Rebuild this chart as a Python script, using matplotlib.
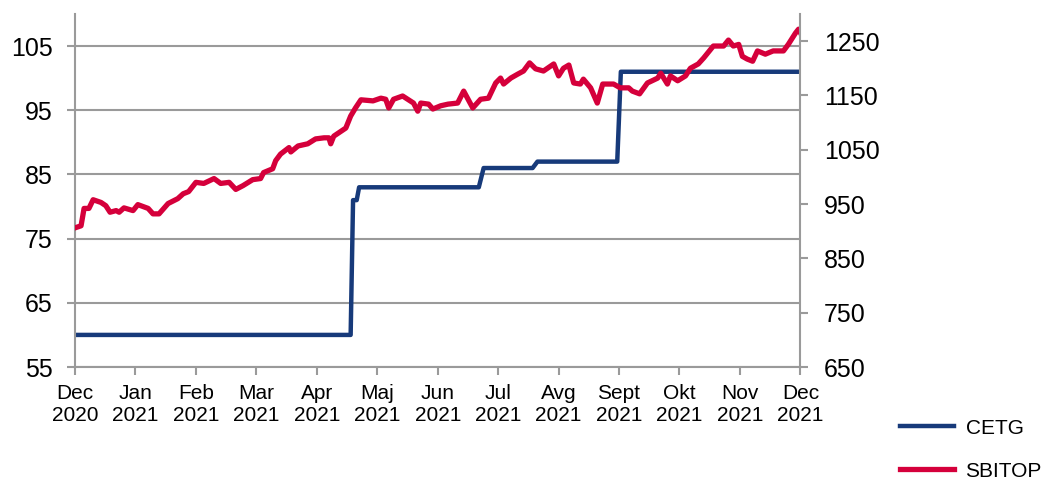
import matplotlib.pyplot as plt
import numpy as np

plt.rcParams['font.family'] = ['Liberation Sans', 'DejaVu Sans']

# month labels (equally spaced category axis)
months = ['Dec\n2020', 'Jan\n2021', 'Feb\n2021', 'Mar\n2021', 'Apr\n2021', 'Maj\n2021', 'Jun\n2021',
          'Jul\n2021', 'Avg\n2021', 'Sept\n2021', 'Okt\n2021', 'Nov\n2021', 'Dec\n2021']

# CETG (left axis) - step series, x in months since Dec 2020
cetg_x = [0, 4.56, 4.60, 4.66, 4.70, 6.68, 6.76, 7.57, 7.65, 8.97, 9.03, 12.0]
cetg_y = [60, 60, 81, 81, 83, 83, 86, 86, 87, 87, 101, 101]

# SBITOP (right axis)
sbi_x = [0.02, 0.10, 0.15, 0.23, 0.30, 0.43, 0.51, 0.58, 0.68, 0.73, 0.81, 0.96, 1.04, 1.21, 1.29,
         1.39, 1.54, 1.70, 1.79, 1.88, 2.00, 2.13, 2.30, 2.41, 2.55, 2.66, 2.78, 2.94, 3.07, 3.12,
         3.27, 3.32, 3.40, 3.54, 3.57, 3.69, 3.85, 3.98, 4.12, 4.20, 4.23, 4.28, 4.36, 4.48, 4.56,
         4.64, 4.73, 4.93, 5.06, 5.14, 5.19, 5.27, 5.42, 5.60, 5.67, 5.72, 5.85, 5.92, 6.05, 6.17,
         6.33, 6.43, 6.58, 6.71, 6.84, 6.96, 7.04, 7.09, 7.21, 7.32, 7.42, 7.52, 7.62, 7.75, 7.92,
         8.00, 8.08, 8.17, 8.25, 8.36, 8.41, 8.53, 8.64, 8.73, 8.91, 9.02, 9.16, 9.22, 9.34, 9.47,
         9.64, 9.69, 9.80, 9.85, 9.97, 10.10, 10.18, 10.31, 10.40, 10.56, 10.73, 10.81, 10.89, 10.98,
         11.04, 11.12, 11.21, 11.29, 11.42, 11.55, 11.72, 11.80, 11.92, 11.97, 12.03]
sbi_y = [907, 910, 942, 942, 958, 953, 947, 935, 938, 935, 943, 938, 949, 942, 932,
         932, 951, 960, 969, 973, 990, 988, 997, 988, 990, 977, 984, 995, 997, 1008,
         1015, 1030, 1042, 1054, 1046, 1057, 1061, 1070, 1072, 1072, 1061, 1075, 1081, 1090, 1112,
         1127, 1142, 1140, 1145, 1143, 1127, 1143, 1149, 1136, 1121, 1136, 1134, 1125, 1131, 1134,
         1136, 1158, 1127, 1143, 1145, 1173, 1182, 1171, 1182, 1189, 1195, 1210, 1199, 1195, 1208,
         1186, 1200, 1206, 1173, 1171, 1180, 1164, 1136, 1171, 1171, 1164, 1164, 1158, 1153, 1173,
         1182, 1191, 1171, 1186, 1177, 1186, 1200, 1208, 1219, 1241, 1241, 1252, 1241, 1244,
         1222, 1217, 1213, 1232, 1226, 1232, 1232, 1244, 1265, 1272, 1259]

blue = '#173a7a'
red = '#d5003b'
grey = '#9a9a9a'

fig = plt.figure(figsize=(10.49, 4.79), dpi=100)
ax = fig.add_axes([0.0715, 0.2338, 0.6915, 0.737])
ax2 = ax.twinx()

ax.plot(cetg_x, cetg_y, color=blue, lw=3.2, label='CETG', solid_joinstyle='round')
ax2.plot(sbi_x, sbi_y, color=red, lw=3.8, label='SBITOP', solid_joinstyle='round')

ax.set_xlim(0, 12)
ax.set_ylim(55, 110)
ax.set_yticks(np.arange(55, 106, 10))
ax2.set_ylim(650, 1300)
ax2.set_yticks(np.arange(650, 1251, 100))
ax.set_xticks(range(len(months)))
ax.set_xticklabels(months, fontsize=15, linespacing=1.2)

ax.yaxis.grid(True, color=grey, lw=1.5)
ax.set_axisbelow(True)

for a in (ax, ax2):
    for s in a.spines.values():
        s.set_color(grey)
        s.set_linewidth(1.5)
    a.spines['top'].set_visible(False)
ax.spines['right'].set_visible(False)
ax2.spines['left'].set_visible(False)
ax2.spines['bottom'].set_visible(False)

ax.tick_params(axis='y', length=6, width=1.5, color=grey, labelsize=18, pad=10)
ax.tick_params(axis='x', length=6, width=1.5, color=grey, pad=6)
ax2.tick_params(axis='y', length=6, width=1.5, color=grey, labelsize=18, pad=11)

h1, l1 = ax.get_legend_handles_labels()
h2, l2 = ax2.get_legend_handles_labels()
fig.legend(h1 + h2, l1 + l2, loc='upper left', bbox_to_anchor=(0.840, 0.165),
           frameon=False, fontsize=15, handlelength=2.6, labelspacing=1.15, handletextpad=0.55)

fig.savefig('out.png', dpi=100)
